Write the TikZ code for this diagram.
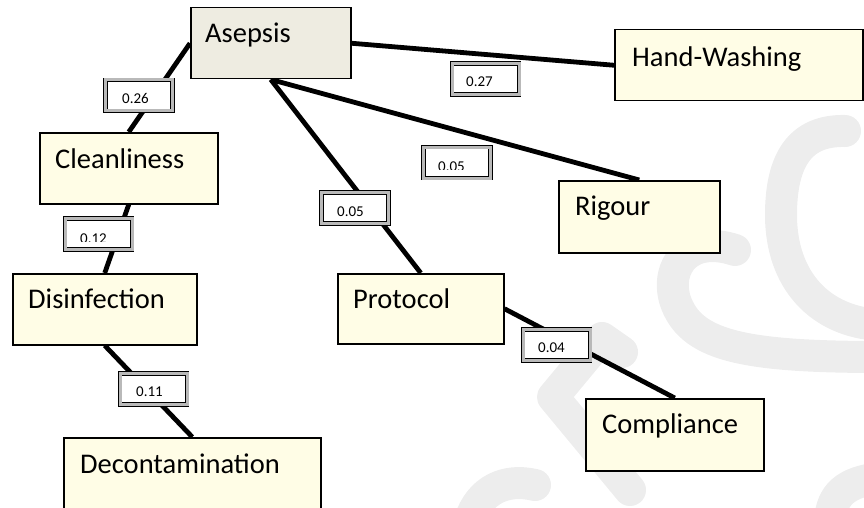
\documentclass[tikz,border=0pt]{standalone}
\usepackage{fontspec}
\setmainfont{Carlito}
\usetikzlibrary{backgrounds}
\pgfdeclarelayer{wmark}
\pgfsetlayers{wmark,background,main}
\definecolor{boxfill}{HTML}{FFFDE6}
\definecolor{rootfill}{HTML}{EEECE1}
\definecolor{wmcol}{HTML}{EDEDED}
\begin{document}
\begin{tikzpicture}[x=1pt,y=-1pt,
  concept/.style={draw=black, line width=1.5pt, fill=boxfill, inner sep=0pt, anchor=north west},
  rootbox/.style={concept, fill=rootfill},
  word/.style={anchor=base west, inner sep=0pt, font=\fontsize{28.5}{30}\selectfont},
  link/.style={line width=4.8pt, black},
  weight/.style={draw=black, line width=0.9pt, double=gray!55, double distance=3pt, fill=white, inner sep=0pt, minimum width=67pt, minimum height=31pt},
  num/.style={anchor=base west, inner sep=0pt, font=\fontsize{15}{16}\selectfont},
  wm/.style={draw=wmcol, line width=32pt, line cap=round, line join=round}]
\useasboundingbox (0,0) rectangle (864,508);
\clip (0,0) rectangle (864,508);

% watermark
\begin{pgfonlayer}{wmark}
  \draw[wm] (845,131) .. controls (800,130) and (781,160) .. (781,215) .. controls (781,280) and (820,322) .. (880,325);
  \draw[wm] (735,250) .. controls (690,235) and (665,265) .. (675,300) .. controls (690,345) and (740,357) .. (880,357);
  \draw[wm] (622,352) -- (602,338) -- (553,397) -- (630,490);
  \draw[wm] (470,520) .. controls (480,490) and (505,478) .. (535,485);
  \draw[wm] (880,478) .. controls (845,482) and (832,495) .. (830,520);
\end{pgfonlayer}

% concept boxes
\node[rootbox, minimum width=160pt, minimum height=71pt] (asepsis) at (190,7) {};
\node[concept, minimum width=248pt, minimum height=71pt] (hand) at (614,29) {};
\node[concept, minimum width=178pt, minimum height=71pt] (clean) at (39,132) {};
\node[concept, minimum width=161pt, minimum height=72pt] (rigour) at (558,180) {};
\node[concept, minimum width=184pt, minimum height=71pt] (disinf) at (12,273) {};
\node[concept, minimum width=166pt, minimum height=70pt] (protocol) at (337,273) {};
\node[concept, minimum width=178pt, minimum height=72pt] (compl) at (585,398) {};
\node[concept, minimum width=257pt, minimum height=95pt] (decon) at (63,437) {};

% concept texts
\node[word] (tasepsis) at (205,43) {Asepsis};
\node[word] (thand) at (632,67) {Hand-Washing};
\node[word] (tclean) at (55,168) {Cleanliness};
\node[word] (trigour) at (575,215) {Rigour};
\node[word] (tdisinf) at (28,308) {Disinfection};
\node[word] (tprotocol) at (353,308) {Protocol};
\node[word] (tcompl) at (602,433) {Compliance};
\node[word] (tdecon) at (80,473) {Decontamination};

% connectors
\begin{pgfonlayer}{background}
  \draw[link] (asepsis.east) -- (hand.west);
  \draw[link] (asepsis.south) -- (rigour.north);
  \draw[link] (asepsis.south) -- (protocol.north);
  \draw[link] (protocol.east) -- (compl.north);
  \draw[link] (asepsis.west) -- (clean.north);
  \draw[link] (clean.south) -- (disinf.north);
  \draw[link] (disinf.south) -- (decon.north);
\end{pgfonlayer}

% weight labels
\node[weight] (w26) at (139,95.5) {};
\node[num] (n26) at (122,104) {0.26};
\node[weight] (w27) at (485.5,79) {};
\node[num] (n27) at (466,87) {0.27};
\node[weight] (w05a) at (457,162.5) {};
\begin{scope}
  \clip (420,150) rectangle (495,169.5);
  \node[num] (n05a) at (438,171) {0.05};
\end{scope}
\node[weight] (w05b) at (355,208) {};
\node[num] (n05b) at (337,216) {0.05};
\node[weight] (w12) at (98.5,234) {};
\begin{scope}
  \clip (60,220) rectangle (136,241.5);
  \node[num] (n12) at (80,243) {0.12};
\end{scope}
\node[weight] (w04) at (556.5,345) {};
\node[num] (n04) at (538,352.7) {0.04};
\node[weight] (w11) at (153.5,389) {};
\node[num] (n11) at (136,396.7) {0.11};
\end{tikzpicture}
\end{document}
